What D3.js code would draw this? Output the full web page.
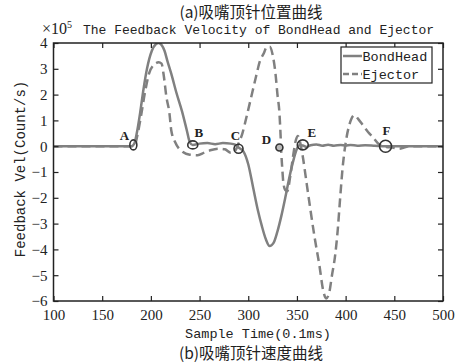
<!DOCTYPE html>
<html><head><meta charset="utf-8">
<script src="https://cdn.jsdelivr.net/npm/d3@7/dist/d3.min.js"></script>
<style>body{margin:0;background:#fff}svg{display:block}</style>
</head><body>
<svg id="c" width="464" height="363"></svg>
<script>
const xTicks = [100,150,200,250,300,350,400,450,500];
const yTicks = [-6,-5,-4,-3,-2,-1,0,1,2,3,4];
const bondT = [100,180,183,186,189,192,196,201,205,208,211,214,217,221,226,232,237,240,243,250,258,266,274,282,287,290,295,300,305,310,314,318,322,326,330,334,338,342,346,350,353,356,360,364,370,376,382,388,395,400,405,412,420,430,441,460,500];
const bondV = [0,0,0.1,0.6,1.3,2.1,3.0,3.7,3.95,4.0,3.92,3.7,3.3,2.8,2.1,1.35,0.6,0.15,0.05,0.1,0.12,0.08,0.12,0.1,0.05,-0.05,-0.2,-0.7,-1.6,-2.5,-3.1,-3.6,-3.87,-3.75,-3.3,-2.7,-2.0,-1.25,-0.6,-0.1,0.05,0.03,-0.03,0.04,0.07,0.02,0.06,0.02,0.05,0.02,0.05,0.02,0.04,0.02,0,0,0];
const ejT = [100,183,186,190,194,198,203,208,211,213,216,219,221,225,232,240,248,255,262,270,276,282,286,290,294,298,303,308,312,316,319,322,325,328,330,332,333,334,335,336,338,340,343,346,349,351,353,356,360,364,368,373,377,380,383,386,389,392,394,397,401,404,409,413,418,423,428,435,442,448,455,460,465,500];
const ejV = [0,0,0.4,1.2,2.1,2.8,3.15,3.25,3.2,2.8,1.9,1.3,0.6,0.15,-0.2,-0.33,-0.35,-0.25,-0.15,-0.1,-0.12,-0.25,-0.2,0.1,0.5,1.1,1.9,2.7,3.3,3.6,3.85,3.85,3.55,2.8,2.0,1.3,0.6,-0.3,-0.9,-1.4,-1.7,-1.75,-1.2,-0.4,0.25,0.4,0.2,-0.4,-1.45,-2.5,-3.5,-4.6,-5.6,-5.9,-5.7,-5.0,-4.3,-3.2,-2.2,-0.8,0.35,0.85,1.2,1.05,0.8,0.55,0.35,0.05,-0.03,-0.05,-0.1,-0.05,0,0];
const markNames = ["A","B","C","D","E","F"];
const markT = [182,243,290,332,356,441];
const markV = [0.05,0.05,-0.1,-0.05,0.05,0.0];
const seriesNames = ["BondHead","Ejector"];

const svg = d3.select("#c");
const L=53.5, R=443, T=43, B=301;
const x = d3.scaleLinear().domain([100,500]).range([L,R]);
const y = d3.scaleLinear().domain([-6,4]).range([B,T]);
const gray = "#808080", ink = "#222";
const mono = "'Liberation Mono', monospace";
const serif = "'Liberation Serif', serif";
const cjk = "'Noto Sans CJK SC', sans-serif";

// clip
svg.append("clipPath").attr("id","clip").append("rect")
  .attr("x",L).attr("y",T).attr("width",R-L).attr("height",B-T);

const line = d3.line().x(d=>x(d[0])).y(d=>y(d[1])).curve(d3.curveMonotoneX);
const g = svg.append("g").attr("clip-path","url(#clip)");
g.append("path").datum(ejT.map((t,i)=>[t,ejV[i]])).attr("d",line)
  .attr("fill","none").attr("stroke",gray).attr("stroke-width",2.5).attr("stroke-dasharray","9,5");
g.append("path").datum(bondT.map((t,i)=>[t,bondV[i]])).attr("d",line)
  .attr("fill","none").attr("stroke",gray).attr("stroke-width",2.5);

// axes
const ax = (gen, tr) => svg.append("g").attr("transform",tr).call(gen);
const tickStyle = s => { s.select(".domain").remove(); s.selectAll("line").attr("stroke",ink).attr("stroke-width",1.2); s.selectAll("text").attr("fill",ink).attr("font-family",serif).attr("font-size",15); };
ax(d3.axisBottom(x).tickValues(xTicks).tickSizeInner(-5).tickSizeOuter(0).tickPadding(8).tickFormat(d3.format("d")),`translate(0,${B})`).call(tickStyle);
ax(d3.axisTop(x).tickValues(xTicks).tickSizeInner(-5).tickSizeOuter(0).tickFormat(""),`translate(0,${T})`).call(tickStyle);
ax(d3.axisLeft(y).tickValues(yTicks).tickSizeInner(-5).tickSizeOuter(0).tickPadding(6).tickFormat(d=>d<0?"\u2212"+(-d):d),`translate(${L},0)`).call(tickStyle);
ax(d3.axisRight(y).tickValues(yTicks).tickSizeInner(-5).tickSizeOuter(0).tickFormat(""),`translate(${R},0)`).call(tickStyle);
svg.append("rect").attr("x",L).attr("y",T).attr("width",R-L).attr("height",B-T)
  .attr("fill","none").attr("stroke",ink).attr("stroke-width",1.5);

// markers
const mg = svg.append("g");
const labOff = {A:[-9,-5],B:[6,-8],C:[-3,-9],D:[-13,-3],E:[9,-8],F:[1,-11]};
const rad = {A:[3.5,5],B:[5,4],C:[4.5,4.5],D:[3.5,3.5],E:[5.5,5],F:[6,6]};
markNames.forEach((n,i)=>{
  const cx=x(markT[i]), cy=y(markV[i]);
  mg.append("ellipse").attr("cx",cx).attr("cy",cy).attr("rx",rad[n][0]).attr("ry",rad[n][1])
    .attr("fill", n==="D"?"#bbb":"none").attr("stroke","#333").attr("stroke-width",1.6);
  mg.append("text").attr("x",cx+labOff[n][0]).attr("y",cy+labOff[n][1]).attr("text-anchor","middle")
    .attr("font-family",serif).attr("font-size",13).attr("font-weight","bold").attr("fill","#222").text(n);
});

// legend
const lg = svg.append("g");
lg.append("rect").attr("x",341).attr("y",47).attr("width",91).attr("height",36)
  .attr("fill","#fff").attr("stroke",ink).attr("stroke-width",1.2);
seriesNames.forEach((s,i)=>{
  const ly = 56 + i*18;
  lg.append("line").attr("x1",343).attr("x2",362).attr("y1",ly).attr("y2",ly)
    .attr("stroke",gray).attr("stroke-width",2.5).attr("stroke-dasharray", i? "6,3":null);
  lg.append("text").attr("x",362.5).attr("y",ly+5).attr("font-family",mono).attr("font-size",13.5)
    .attr("fill",ink).text(s);
});

// titles
svg.append("text").attr("x",251).attr("y",18).attr("text-anchor","middle").attr("font-family",cjk)
  .attr("font-size",15.5).attr("fill",ink).text("(a)吸嘴顶针位置曲线");
const tt = svg.append("text").attr("x",42).attr("y",34).attr("fill",ink);
tt.append("tspan").attr("font-family",serif).attr("font-size",16).text("×10");
tt.append("tspan").attr("font-family",serif).attr("font-size",10).attr("dy",-6).text("5");
svg.append("text").attr("x",83).attr("y",34).attr("font-family",mono).attr("font-size",13).attr("fill",ink)
  .text("The Feedback Velocity of BondHead and Ejector");
svg.append("text").attr("x",258).attr("y",338).attr("text-anchor","middle").attr("font-family",mono)
  .attr("font-size",13.5).attr("fill",ink).text("Sample Time(0.1ms)");
svg.append("text").attr("transform",`translate(25,${(T+B)/2-3}) rotate(-90)`).attr("text-anchor","middle")
  .attr("font-family",mono).attr("font-size",14).attr("fill",ink).text("Feedback Vel(Count/s)");
svg.append("text").attr("x",251).attr("y",359).attr("text-anchor","middle").attr("font-family",cjk)
  .attr("font-size",15.5).attr("fill",ink).text("(b)吸嘴顶针速度曲线");
</script>
</body></html>
